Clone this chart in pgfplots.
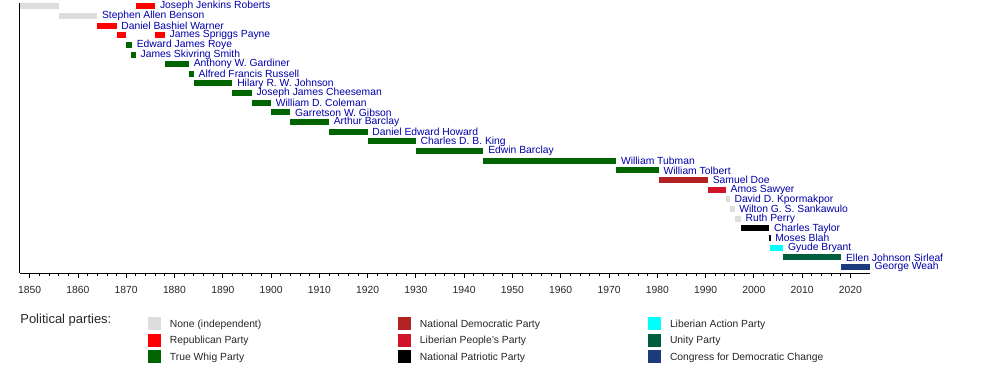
\documentclass[border=0pt]{standalone}
\usepackage{fontspec}
\setmainfont{Liberation Sans}
\usepackage{pgfplots}
\pgfplotsset{compat=1.18}
\newlength\p \setlength\p{0.6pt}
\definecolor{cNone}{HTML}{DDDDDD}
\definecolor{cRep}{HTML}{FF0000}
\definecolor{cTW}{HTML}{006400}
\definecolor{cNDP}{HTML}{B22222}
\definecolor{cLPP}{HTML}{D2142B}
\definecolor{cNPP}{HTML}{000000}
\definecolor{cLAP}{HTML}{00FFFF}
\definecolor{cUP}{HTML}{005E3C}
\definecolor{cCDC}{HTML}{1C3A7C}
\definecolor{lblue}{HTML}{0000AA}
\pgfplotsset{party/.style={color=#1, line width=6\p, line cap=butt, mark=none,
  legend image code/.code={\fill[#1, draw=none] (0pt,-2.8\p) rectangle (13\p,10.2\p);}}}
\tikzset{lbl/.style={anchor=west, inner sep=0pt, xshift=4.5\p, text=lblue, font=\fontsize{6.2}{7}\selectfont}}
\begin{document}
\begin{tikzpicture}
\path[use as bounding box] (0,0) rectangle (1000\p,373\p);
\begin{axis}[at={(20\p,100\p)}, anchor=south west, scale only axis,
  width=849.7\p, height=270\p,
  xmin=1848, xmax=2024, ymin=-0.331, ymax=27.62, y dir=reverse,
  axis x line*=bottom, axis y line*=left, axis line style={line width=1\p, -},
  ytick=\empty, xtick={1850,1860,...,2020}, minor x tick num=4, tick align=outside,
  major tick length=5\p, minor tick length=2.7\p, tick style={line width=0.8\p, black},
  xticklabel style={font=\fontsize{6.2}{7}\selectfont, text=black!85, yshift=-2\p},
  /pgf/number format/1000 sep={},
  /pgf/number format/assume math mode=true,
  clip=false, unbounded coords=jump,
  legend columns=3,
  legend style={at={(0.15064,-0.163)}, anchor=north west, draw=none, fill=none,
    inner sep=0pt, outer sep=0pt, row sep=3.7\p, cells={anchor=base west},
    nodes={inner sep=0pt, outer sep=0pt, font=\fontsize{6.2}{7}\selectfont, text=black!85},
    /tikz/every odd column/.append style={column sep=9\p}},
]
\addplot[party=cNone] coordinates {(1848,0) (1856,0) (nan,nan) (1856,1) (1864,1) (nan,nan)
  (1994.2,20) (1995.0,20) (nan,nan) (1995.0,21) (1996.0,21) (nan,nan) (1996.0,22) (1997.3,22)};
\addlegendentry{\makebox[228\p][l]{None (independent)}}
\addplot[party=cNDP] coordinates {(1980.3,18) (1990.5,18)};
\addlegendentry{\makebox[228\p][l]{National Democratic Party}}
\addplot[party=cLAP] coordinates {(2003.3,25) (2006.1,25)};
\addlegendentry{\makebox[228\p][l]{Liberian Action Party}}
\addplot[party=cRep] coordinates {(1872,0) (1876,0) (nan,nan) (1864,2) (1868,2) (nan,nan)
  (1868,3) (1870,3) (nan,nan) (1876,3) (1878,3)};
\addlegendentry{\makebox[228\p][l]{Republican Party}}
\addplot[party=cLPP] coordinates {(1990.5,19) (1994.2,19)};
\addlegendentry{\makebox[228\p][l]{Liberian People's Party}}
\addplot[party=cUP] coordinates {(2006.0,26) (2018.1,26)};
\addlegendentry{\makebox[228\p][l]{Unity Party}}
\addplot[party=cTW] coordinates {(1870,4) (1871.2,4) (nan,nan) (1871,5) (1872,5) (nan,nan)
  (1878,6) (1883,6) (nan,nan) (1883,7) (1884,7) (nan,nan) (1884,8) (1892,8) (nan,nan)
  (1892,9) (1896,9) (nan,nan) (1896,10) (1900,10) (nan,nan) (1900,11) (1904,11) (nan,nan)
  (1904,12) (1912,12) (nan,nan) (1912,13) (1920,13) (nan,nan) (1920,14) (1930,14) (nan,nan)
  (1930,15) (1944,15) (nan,nan) (1944,16) (1971.5,16) (nan,nan) (1971.5,17) (1980.3,17)};
\addlegendentry{\makebox[228\p][l]{True Whig Party}}
\addplot[party=cNPP] coordinates {(1997.3,23) (2003.2,23) (nan,nan) (2003.2,24) (2003.45,24)};
\addlegendentry{\makebox[228\p][l]{National Patriotic Party}}
\addplot[party=cCDC] coordinates {(2018.0,27) (2024.0,27)};
\addlegendentry{\makebox[228\p][l]{Congress for Democratic Change}}

\node[lbl] at (axis cs:1876,0) {Joseph Jenkins Roberts};
\node[lbl] at (axis cs:1864,1) {Stephen Allen Benson};
\node[lbl] at (axis cs:1868,2) {Daniel Bashiel Warner};
\node[lbl] at (axis cs:1878,3) {James Spriggs Payne};
\node[lbl] at (axis cs:1871.2,4) {Edward James Roye};
\node[lbl] at (axis cs:1872,5) {James Skivring Smith};
\node[lbl] at (axis cs:1883,6) {Anthony W. Gardiner};
\node[lbl] at (axis cs:1884,7) {Alfred Francis Russell};
\node[lbl] at (axis cs:1892,8) {Hilary R. W. Johnson};
\node[lbl] at (axis cs:1896,9) {Joseph James Cheeseman};
\node[lbl] at (axis cs:1900,10) {William D. Coleman};
\node[lbl] at (axis cs:1904,11) {Garretson W. Gibson};
\node[lbl] at (axis cs:1912,12) {Arthur Barclay};
\node[lbl] at (axis cs:1920,13) {Daniel Edward Howard};
\node[lbl] at (axis cs:1930,14) {Charles D. B. King};
\node[lbl] at (axis cs:1944,15) {Edwin Barclay};
\node[lbl] at (axis cs:1971.5,16) {William Tubman};
\node[lbl] at (axis cs:1980.3,17) {William Tolbert};
\node[lbl] at (axis cs:1990.5,18) {Samuel Doe};
\node[lbl] at (axis cs:1994.2,19) {Amos Sawyer};
\node[lbl] at (axis cs:1995.0,20) {David D. Kpormakpor};
\node[lbl] at (axis cs:1996.0,21) {Wilton G. S. Sankawulo};
\node[lbl] at (axis cs:1997.3,22) {Ruth Perry};
\node[lbl] at (axis cs:2003.2,23) {Charles Taylor};
\node[lbl] at (axis cs:2003.45,24) {Moses Blah};
\node[lbl] at (axis cs:2006.1,25) {Gyude Bryant};
\node[lbl] at (axis cs:2018.1,26) {Ellen Johnson Sirleaf};
\node[lbl] at (axis cs:2024.0,27) {George Weah};
\node[anchor=west, inner sep=0pt, font=\fontsize{7.8}{9}\selectfont, text=black!85]
  at (axis description cs:0,-0.174) {Political parties:};
\end{axis}
\end{tikzpicture}
\end{document}
